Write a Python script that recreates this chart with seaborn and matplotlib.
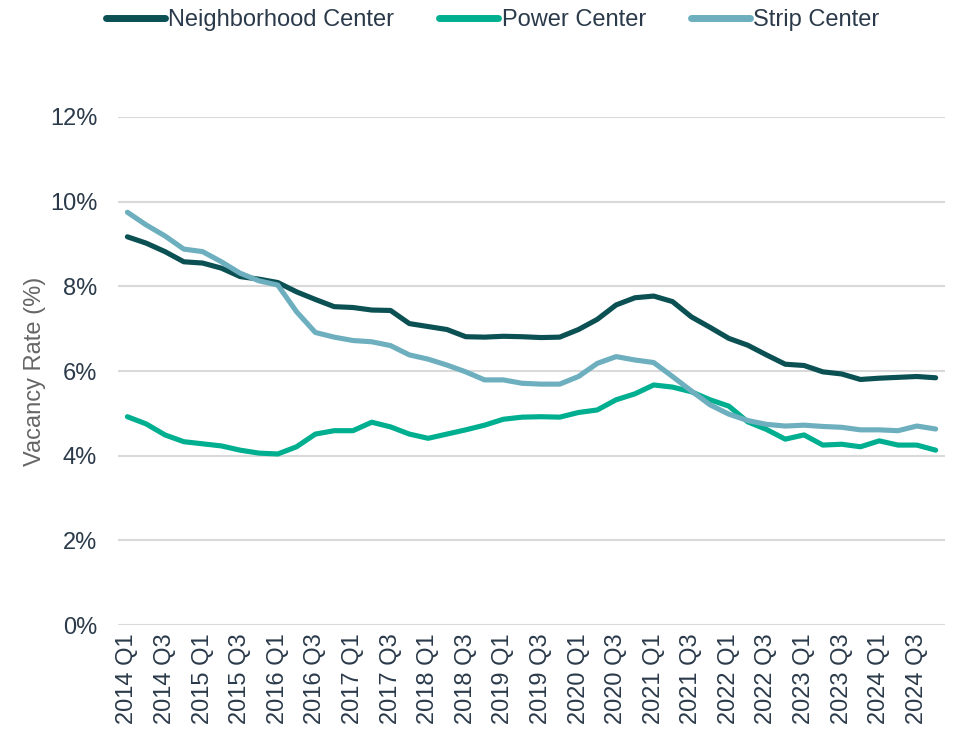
import matplotlib
matplotlib.use("Agg")
import matplotlib.pyplot as plt
import seaborn as sns
import pandas as pd
from matplotlib.ticker import FuncFormatter
from matplotlib.lines import Line2D

quarters = [
    "2014 Q1", "2014 Q2", "2014 Q3", "2014 Q4", "2015 Q1", "2015 Q2", "2015 Q3", "2015 Q4",
    "2016 Q1", "2016 Q2", "2016 Q3", "2016 Q4", "2017 Q1", "2017 Q2", "2017 Q3", "2017 Q4",
    "2018 Q1", "2018 Q2", "2018 Q3", "2018 Q4", "2019 Q1", "2019 Q2", "2019 Q3", "2019 Q4",
    "2020 Q1", "2020 Q2", "2020 Q3", "2020 Q4", "2021 Q1", "2021 Q2", "2021 Q3", "2021 Q4",
    "2022 Q1", "2022 Q2", "2022 Q3", "2022 Q4", "2023 Q1", "2023 Q2", "2023 Q3", "2023 Q4",
    "2024 Q1", "2024 Q2", "2024 Q3", "2024 Q4",
]

neighborhood = [9.17, 9.02, 8.82, 8.58, 8.55, 8.43, 8.23, 8.17, 8.09, 7.87, 7.69, 7.52, 7.50, 7.44, 7.43,
                7.12, 7.05, 6.98, 6.81, 6.80, 6.82, 6.81, 6.79, 6.80, 6.98, 7.22, 7.56, 7.73, 7.77, 7.64,
                7.28, 7.03, 6.77, 6.61, 6.38, 6.16, 6.13, 5.98, 5.93, 5.80, 5.83, 5.85, 5.87, 5.84]
power = [4.92, 4.75, 4.49, 4.33, 4.28, 4.23, 4.13, 4.06, 4.04, 4.21, 4.51, 4.59, 4.59, 4.79, 4.68,
         4.51, 4.41, 4.51, 4.61, 4.72, 4.86, 4.91, 4.92, 4.91, 5.02, 5.08, 5.32, 5.46, 5.67, 5.62,
         5.51, 5.32, 5.17, 4.80, 4.62, 4.39, 4.49, 4.25, 4.27, 4.21, 4.35, 4.25, 4.25, 4.13]
strip = [9.75, 9.45, 9.19, 8.88, 8.82, 8.58, 8.31, 8.13, 8.03, 7.40, 6.91, 6.80, 6.72, 6.69, 6.60,
         6.38, 6.28, 6.14, 5.98, 5.79, 5.79, 5.71, 5.69, 5.69, 5.87, 6.18, 6.34, 6.26, 6.20, 5.87,
         5.53, 5.20, 4.98, 4.83, 4.74, 4.70, 4.72, 4.69, 4.67, 4.61, 4.61, 4.59, 4.70, 4.63]

series_names = ["Neighborhood Center", "Power Center", "Strip Center"]
colors = ["#0B5053", "#00AE90", "#6DAFBE"]

rows = []
for name, vals in zip(series_names, [neighborhood, power, strip]):
    for i, v in enumerate(vals):
        rows.append({"idx": i, "quarter": quarters[i], "value": v, "series": name})
df = pd.DataFrame(rows)

sns.set_theme(style="white")
plt.rcParams["font.family"] = ["Liberation Sans", "DejaVu Sans"]
text_color = "#2B3A4A"
fs = 17

fig = plt.figure(figsize=(9.57, 7.34), dpi=100)
ax = fig.add_axes([0.1233, 0.1485, 0.8642, 0.6921])

sns.lineplot(data=df, x="idx", y="value", hue="series", hue_order=series_names,
             palette=colors, linewidth=3.7, ax=ax, legend=False,
             solid_capstyle="round", solid_joinstyle="round")

ax.set_xlim(-0.5, len(quarters) - 0.5)
ax.set_ylim(0, 12)
ax.set_yticks([0, 2, 4, 6, 8, 10, 12])
ax.yaxis.set_major_formatter(FuncFormatter(lambda v, p: f"{v:.0f}%"))
tick_pos = list(range(0, len(quarters), 2))
ax.set_xticks(tick_pos)
ax.set_xticklabels([quarters[i] for i in tick_pos], rotation=90)
ax.tick_params(axis="both", length=0, labelsize=fs, colors=text_color)
ax.tick_params(axis="x", pad=6)
ax.tick_params(axis="y", pad=15)
ax.set_xlabel("")
ax.set_ylabel("Vacancy Rate (%)", fontsize=fs, color="#666666")
ax.yaxis.set_label_coords(-0.087, 0.5)
ax.grid(axis="y", color="#D9D9D9", linewidth=1.5)
ax.grid(axis="x", visible=False)
for s in ax.spines.values():
    s.set_visible(False)

handles = [Line2D([0], [0], color=c, linewidth=5, solid_capstyle="round") for c in colors]
fig.legend(handles, series_names, loc="center", bbox_to_anchor=(0.5146, 0.973), ncol=3,
           frameon=False, fontsize=fs, handlelength=2.5, handletextpad=0.15,
           columnspacing=1.9, labelcolor=text_color)

fig.savefig("out.png", dpi=100)
